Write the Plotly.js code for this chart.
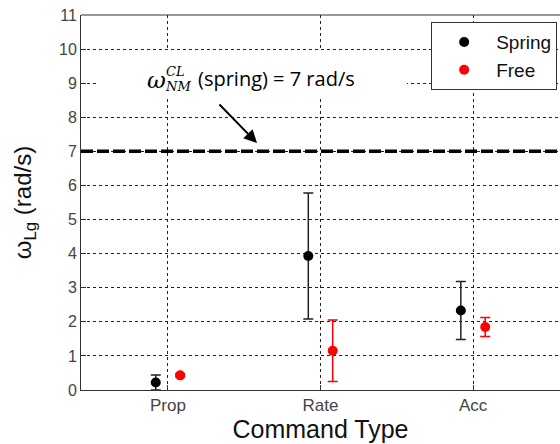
<!DOCTYPE html>
<html><head><meta charset="utf-8">
<script src="https://cdn.plot.ly/plotly-3.0.1.min.js"></script>
<style>body{margin:0;background:#fff}#c{width:560px;height:444px}</style>
</head><body><div id="c"></div>
<script>
const categories = ['Prop', 'Rate', 'Acc'];
const springMean = [0.22, 3.93, 2.33];
const springErr = [0.22, 1.85, 0.85];
const freeMean = [0.43, 1.15, 1.85];
const freeErr = [0.05, 0.90, 0.28];
const refValue = 7;
const yTicks = [0,1,2,3,4,5,6,7,8,9,10,11];

const traces = [
  {type:'scatter', mode:'markers', name:'Spring', x:categories, y:springMean,
   offsetgroup:'s', marker:{color:'#000', size:10},
   error_y:{type:'data', array:springErr, visible:true, color:'#222', thickness:1.5, width:5}},
  {type:'scatter', mode:'markers', name:'Free', x:categories, y:freeMean,
   offsetgroup:'f', marker:{color:'#ff0000', size:10},
   error_y:{type:'data', array:freeErr, visible:true, color:'#ff0000', thickness:1.5, width:5}}
];

const layout = {
  width:560, height:444,
  margin:{l:81, r:0, t:15, b:54},
  paper_bgcolor:'#fff', plot_bgcolor:'#fff',
  scattermode:'group', scattergap:0.68,
  font:{family:'Liberation Sans, Arial, sans-serif', color:'#333'},
  xaxis:{type:'category', categoryorder:'array', categoryarray:categories,
    range:[-0.57, 2.57], showline:true, linecolor:'#333', linewidth:1,
    showgrid:true, gridcolor:'#222', griddash:'3px,3px', gridwidth:1,
    ticks:'inside', ticklen:5, tickcolor:'#333', tickfont:{size:17, color:'#444'},
    zeroline:false,
    title:{text:'Command Type', font:{size:25, color:'#111'}, standoff:4}},
  yaxis:{range:[0,11], tickvals:yTicks, showline:true, linecolor:'#333', linewidth:1,
    showgrid:true, gridcolor:'#222', griddash:'3px,3px', gridwidth:1,
    ticks:'inside', ticklen:5, tickcolor:'#333', tickfont:{size:16, color:'#444'},
    zeroline:false,
    title:{text:'ω<sub>Lg</sub> (rad/s)', font:{size:24, color:'#111'}, standoff:20}},
  legend:{x:0.731, y:0.981, xanchor:'left', yanchor:'top', bgcolor:'#fff',
    bordercolor:'#333', borderwidth:1, font:{size:19, color:'#111'},
    itemwidth:54, tracegroupgap:0},
  shapes:[
    {type:'rect', xref:'paper', yref:'paper', x0:(97-81)/479, x1:(407-81)/479,
     y0:(390-97)/375, y1:(390-50)/375, fillcolor:'#fff', line:{width:0}, layer:'above'},
    {type:'line', xref:'paper', x0:0, x1:1, yref:'y', y0:refValue, y1:refValue,
     line:{color:'#000', width:3.5, dash:'12px,4px'}},
    {type:'line', xref:'paper', x0:0, x1:1, yref:'paper', y0:1, y1:1,
     line:{color:'#333', width:1}}
  ],
  annotations:[
    {xref:'paper', yref:'paper', x:(145-81)/479, y:(390-80)/375, xanchor:'left', yanchor:'middle',
     text:'<i>ω</i>', showarrow:false, font:{family:'DejaVu Serif, serif', size:23, color:'#000'}},
    {xref:'paper', yref:'paper', x:(164-81)/479, y:(390-71)/375, xanchor:'left', yanchor:'middle',
     text:'<i>CL</i>', showarrow:false, font:{family:'DejaVu Serif, serif', size:13, color:'#000'}},
    {xref:'paper', yref:'paper', x:(163-81)/479, y:(390-87)/375, xanchor:'left', yanchor:'middle',
     text:'<i>NM</i>', showarrow:false, font:{family:'DejaVu Serif, serif', size:13, color:'#000'}},
    {xref:'paper', yref:'paper', x:(196-81)/479, y:(390-79)/375, xanchor:'left', yanchor:'middle',
     text:'(spring) = 7 rad/s', showarrow:false, font:{family:'Open Sans, sans-serif', size:20, color:'#000'}},
    {xref:'paper', yref:'paper', x:(257-81)/479, y:(390-143)/375, text:'', showarrow:true,
     ax:-39, ay:-40, arrowcolor:'#000', arrowwidth:2, arrowhead:2, arrowsize:1.3}
  ]
};
Plotly.newPlot('c', traces, layout, {displayModeBar:false, staticPlot:true});
</script></body></html>
